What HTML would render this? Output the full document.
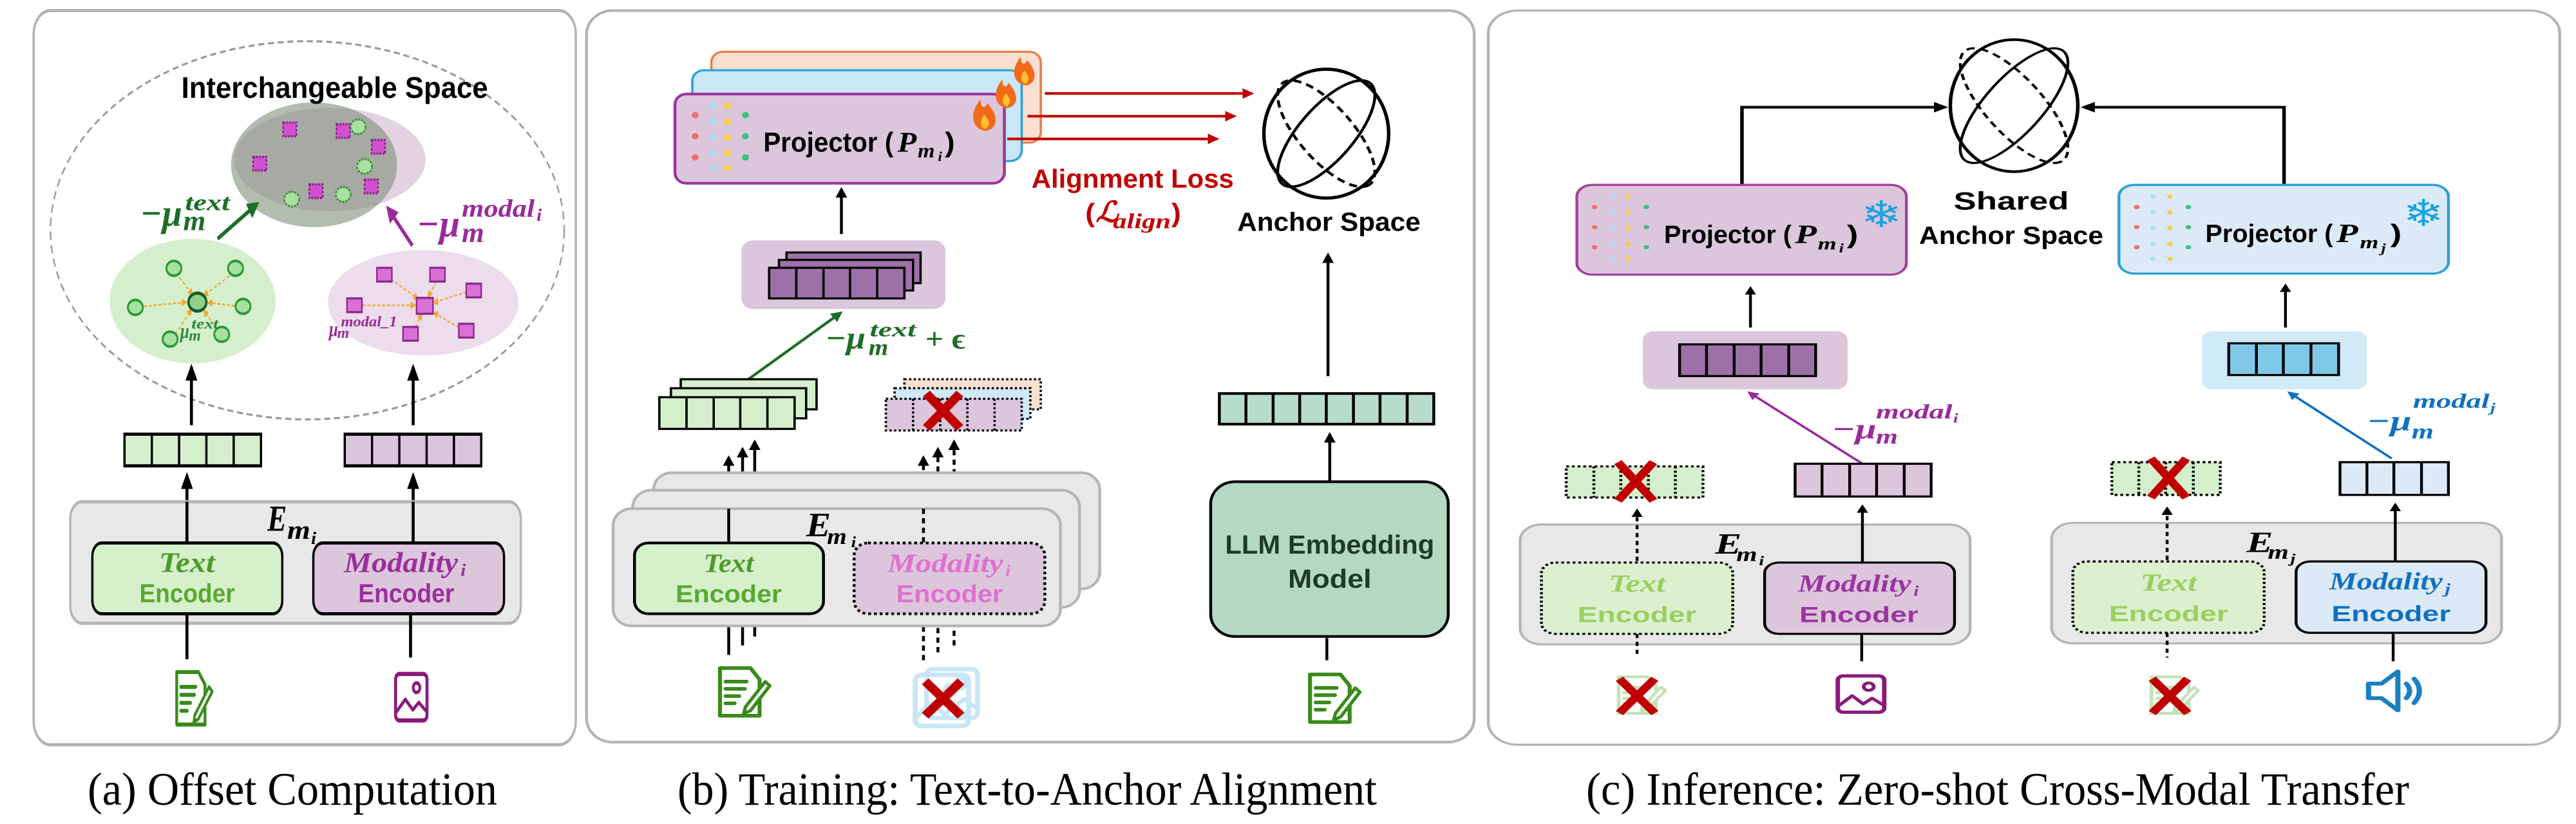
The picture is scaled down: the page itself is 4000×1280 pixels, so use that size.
<!DOCTYPE html>
<html><head><meta charset="utf-8"><style>html,body{margin:0;padding:0;background:#fff}svg{display:block}</style></head>
<body>
<svg xmlns="http://www.w3.org/2000/svg" width="4000" height="1280" viewBox="0 0 4000 1280">
<defs>
<marker id="mk" viewBox="0 0 10 10" refX="8" refY="5" markerWidth="4" markerHeight="4" orient="auto"><path d="M0,0L10,5L0,10z" fill="#000"/></marker>
<marker id="mg" viewBox="0 0 10 10" refX="8" refY="5" markerWidth="4" markerHeight="4" orient="auto"><path d="M0,0L10,5L0,10z" fill="#1e6e28"/></marker>
<marker id="mp" viewBox="0 0 10 10" refX="8" refY="5" markerWidth="4" markerHeight="4" orient="auto"><path d="M0,0L10,5L0,10z" fill="#9a2a9a"/></marker>
<marker id="mr" viewBox="0 0 10 10" refX="8" refY="5" markerWidth="4" markerHeight="4" orient="auto"><path d="M0,0L10,5L0,10z" fill="#c00000"/></marker>
<marker id="mb" viewBox="0 0 10 10" refX="8" refY="5" markerWidth="4" markerHeight="4" orient="auto"><path d="M0,0L10,5L0,10z" fill="#1070c0"/></marker>
<marker id="mo" viewBox="0 0 10 10" refX="8" refY="5" markerWidth="5" markerHeight="5" orient="auto"><path d="M0,0L10,5L0,10z" fill="#f0a830"/></marker>
<symbol id="doc" viewBox="0 0 100 100">
<path d="M8,4H62L78,26V96H8Z" fill="none" stroke="currentColor" stroke-width="7" stroke-linejoin="round"/>
<path d="M18,30H55M18,44H52M18,58H42M18,72H34" stroke="currentColor" stroke-width="7" stroke-linecap="round"/>
<path d="M88,30L96,38L62,86L50,92L53,79Z" fill="#fff" stroke="currentColor" stroke-width="6" stroke-linejoin="round"/>
</symbol>
<symbol id="img" viewBox="0 0 100 100">
<rect x="8" y="6" width="84" height="88" rx="10" fill="none" stroke="currentColor" stroke-width="8"/>
<circle cx="64" cy="32" r="9" fill="none" stroke="currentColor" stroke-width="7"/>
<polyline points="8,80 34,54 54,74 70,60 92,78" fill="none" stroke="currentColor" stroke-width="7" stroke-linejoin="round"/>
</symbol>
<symbol id="spk" viewBox="0 0 100 100">
<path d="M10,35H30L55,10V90L30,65H10Z" fill="none" stroke="currentColor" stroke-width="8" stroke-linejoin="round"/>
<path d="M68,35Q78,50 68,65M80,25Q96,50 80,75" fill="none" stroke="currentColor" stroke-width="8" stroke-linecap="round"/>
</symbol>
<g id="flame"><path d="M0,0C-24,-4 -26,-30 -8,-50C-10,-36 0,-34 2,-44C16,-30 24,-6 0,0Z" fill="#f06a1a"/><path d="M0,-3C-10,-5 -10,-18 -2,-26C2,-18 10,-14 0,-3Z" fill="#ffc030"/></g>
</defs>

<!-- ============ PANEL A ============ -->
<g transform="scale(0.5806,0.8205)" font-family="Liberation Sans, sans-serif">
<rect x="90" y="20" width="1450" height="1390" rx="45" fill="#fff" stroke="#b3b3b3" stroke-width="6"/>
<ellipse cx="822" cy="436" rx="687" ry="358" fill="none" stroke="#999" stroke-width="4" stroke-dasharray="16 10"/>
<ellipse cx="882" cy="302" rx="256" ry="98" fill="#e2d2e2"/>
<ellipse cx="840" cy="312" rx="222" ry="118" fill="#7f8f7a" opacity="0.6"/>
<text x="485" y="185" font-size="56" font-weight="bold" textLength="820" lengthAdjust="spacingAndGlyphs">Interchangeable Space</text>
<g fill="#d050d0" stroke="#8a208a" stroke-width="4" stroke-dasharray="5 3">
<rect x="757" y="232" width="36" height="26"/><rect x="900" y="235" width="36" height="26"/><rect x="994" y="265" width="36" height="26"/><rect x="677" y="297" width="36" height="26"/><rect x="975" y="340" width="36" height="26"/><rect x="827" y="349" width="36" height="26"/>
</g>
<g fill="#a8e0a0" stroke="#3a8a3a" stroke-width="4" stroke-dasharray="5 3">
<ellipse cx="958" cy="240" rx="20" ry="14"/><ellipse cx="975" cy="315" rx="20" ry="14"/><ellipse cx="780" cy="377" rx="20" ry="14"/><ellipse cx="918" cy="368" rx="20" ry="14"/>
</g>
<line x1="582" y1="452" x2="688" y2="386" stroke="#1e6e28" stroke-width="8" marker-end="url(#mg)"/>
<line x1="1103" y1="465" x2="1037" y2="394" stroke="#9a2a9a" stroke-width="8" marker-end="url(#mp)"/>
<g font-family="Liberation Serif, serif" font-weight="bold" font-style="italic" fill="#1e6e28">
<text x="375" y="428" font-size="72" textLength="112" lengthAdjust="spacingAndGlyphs">−μ</text><text x="490" y="436" font-size="54" textLength="60" lengthAdjust="spacingAndGlyphs">m</text><text x="495" y="398" font-size="44" textLength="120" lengthAdjust="spacingAndGlyphs">text</text>
</g>
<g font-family="Liberation Serif, serif" font-weight="bold" font-style="italic" fill="#9a2a9a">
<text x="1115" y="448" font-size="72" textLength="115" lengthAdjust="spacingAndGlyphs">−μ</text><text x="1235" y="458" font-size="54" textLength="60" lengthAdjust="spacingAndGlyphs">m</text><text x="1235" y="410" font-size="48" textLength="195" lengthAdjust="spacingAndGlyphs">modal</text><text x="1435" y="418" font-size="34" textLength="14" lengthAdjust="spacingAndGlyphs">i</text>
</g>
<!-- lower green cluster -->
<ellipse cx="515" cy="570" rx="222" ry="118" fill="#d5efcc"/>
<g stroke="#f0a830" stroke-width="3" stroke-dasharray="8 5" marker-end="url(#mo)">
<line x1="470" y1="516" x2="515" y2="558"/><line x1="625" y1="516" x2="545" y2="560"/><line x1="385" y1="580" x2="498" y2="572"/><line x1="628" y1="579" x2="556" y2="573"/><line x1="468" y1="634" x2="512" y2="586"/><line x1="583" y1="625" x2="545" y2="588"/>
</g>
<g fill="#a8e0a0" stroke="#2a9a3a" stroke-width="5">
<ellipse cx="465" cy="508" rx="20" ry="14"/><ellipse cx="630" cy="508" rx="20" ry="14"/><ellipse cx="362" cy="582" rx="20" ry="14"/><ellipse cx="650" cy="580" rx="20" ry="14"/><ellipse cx="455" cy="642" rx="20" ry="14"/><ellipse cx="593" cy="633" rx="20" ry="14"/>
</g>
<ellipse cx="528" cy="572" rx="24" ry="17" fill="#8fd08a" stroke="#1a5a2a" stroke-width="6"/>
<g font-family="Liberation Serif, serif" font-weight="bold" font-style="italic" fill="#2a8a3a">
<text x="482" y="640" font-size="40" textLength="24" lengthAdjust="spacingAndGlyphs">μ</text><text x="505" y="645" font-size="30" textLength="32" lengthAdjust="spacingAndGlyphs">m</text><text x="512" y="622" font-size="28" textLength="72" lengthAdjust="spacingAndGlyphs">text</text>
</g>
<!-- lower purple cluster -->
<ellipse cx="1132" cy="573" rx="255" ry="100" fill="#ecdcec"/>
<g stroke="#f0a830" stroke-width="3" stroke-dasharray="8 5" marker-end="url(#mo)">
<line x1="1045" y1="528" x2="1118" y2="566"/><line x1="1168" y1="532" x2="1145" y2="562"/><line x1="1248" y1="553" x2="1160" y2="573"/><line x1="970" y1="578" x2="1110" y2="578"/><line x1="1228" y1="620" x2="1160" y2="592"/><line x1="1110" y1="620" x2="1128" y2="594"/>
</g>
<g fill="#d870d8" stroke="#8a2a8a" stroke-width="4">
<rect x="1008" y="507" width="40" height="26"/><rect x="1150" y="507" width="40" height="26"/><rect x="1247" y="537" width="40" height="26"/><rect x="928" y="565" width="40" height="26"/><rect x="1227" y="613" width="40" height="26"/><rect x="1078" y="619" width="40" height="26"/>
<rect x="1114" y="564" width="44" height="30"/>
</g>
<g font-family="Liberation Serif, serif" font-weight="bold" font-style="italic" fill="#9a2a9a">
<text x="880" y="636" font-size="40" textLength="24" lengthAdjust="spacingAndGlyphs">μ</text><text x="902" y="640" font-size="30" textLength="32" lengthAdjust="spacingAndGlyphs">m</text><text x="912" y="618" font-size="28" textLength="150" lengthAdjust="spacingAndGlyphs">modal_1</text>
</g>
<!-- arrows -->
<g stroke="#000" stroke-width="8" marker-end="url(#mk)">
<line x1="512" y1="805" x2="512" y2="695"/><line x1="1105" y1="805" x2="1105" y2="695"/>
<line x1="500" y1="1025" x2="500" y2="900"/><line x1="1105" y1="1025" x2="1105" y2="900"/>
</g>
<!-- vectors -->
<rect x="333" y="822" width="365" height="60" fill="#d5efcc" stroke="#000" stroke-width="6"/>
<path d="M406,822V882M479,822V882M552,822V882M625,822V882" stroke="#000" stroke-width="6"/>
<rect x="922" y="822" width="365" height="60" fill="#d9c6dc" stroke="#000" stroke-width="6"/>
<path d="M995,822V882M1068,822V882M1141,822V882M1214,822V882" stroke="#000" stroke-width="6"/>
<!-- encoder -->
<rect x="188" y="950" width="1205" height="230" rx="32" fill="#e8e8e8" stroke="#b5b5b5" stroke-width="6"/>
<line x1="500" y1="950" x2="500" y2="1028" stroke="#000" stroke-width="8"/>
<line x1="1105" y1="950" x2="1105" y2="1028" stroke="#000" stroke-width="8"/>
<g font-family="Liberation Serif, serif" font-weight="bold" font-style="italic">
<text x="715" y="1005" font-size="70" textLength="52" lengthAdjust="spacingAndGlyphs">E</text><text x="768" y="1020" font-size="50" textLength="62" lengthAdjust="spacingAndGlyphs">m</text><text x="832" y="1030" font-size="34" textLength="14" lengthAdjust="spacingAndGlyphs">i</text>
</g>
<rect x="247" y="1028" width="508" height="134" rx="25" fill="#d6f0cc" stroke="#000" stroke-width="6"/>
<rect x="838" y="1028" width="510" height="134" rx="25" fill="#dcc6dc" stroke="#000" stroke-width="6"/>
<text x="425" y="1083" font-family="Liberation Serif, serif" font-weight="bold" font-style="italic" font-size="54" fill="#4f9a2a" textLength="150" lengthAdjust="spacingAndGlyphs">Text</text>
<text x="373" y="1140" font-size="50" font-weight="bold" fill="#5aa830" textLength="255" lengthAdjust="spacingAndGlyphs">Encoder</text>
<text x="920" y="1083" font-family="Liberation Serif, serif" font-weight="bold" font-style="italic" font-size="54" fill="#9a2f9a" textLength="305" lengthAdjust="spacingAndGlyphs">Modality</text>
<text x="1232" y="1090" font-family="Liberation Serif, serif" font-weight="bold" font-style="italic" font-size="34" fill="#9a2f9a" textLength="14" lengthAdjust="spacingAndGlyphs">i</text>
<text x="958" y="1140" font-size="50" font-weight="bold" fill="#9a2f9a" textLength="257" lengthAdjust="spacingAndGlyphs">Encoder</text>
<line x1="500" y1="1165" x2="500" y2="1248" stroke="#000" stroke-width="8"/>
<line x1="1098" y1="1165" x2="1098" y2="1245" stroke="#000" stroke-width="8"/>
<use href="#doc" x="443" y="1268" width="150" height="108" preserveAspectRatio="none" style="color:#3a8a1a"/>
<use href="#img" x="1030" y="1270" width="140" height="100" preserveAspectRatio="none" style="color:#8a1a7a"/>
</g>

<!-- ============ PANEL B ============ -->
<g transform="translate(900,0) scale(0.8974,0.8205)" font-family="Liberation Sans, sans-serif">
<rect x="12" y="20" width="1536" height="1385" rx="45" fill="#fff" stroke="#b3b3b3" stroke-width="5"/>
<rect x="228" y="98" width="570" height="172" rx="20" fill="#fbe0d2" stroke="#e8804a" stroke-width="4"/>
<rect x="195" y="133" width="570" height="172" rx="20" fill="#c8e8f8" stroke="#30a0d8" stroke-width="4"/>
<rect x="165" y="178" width="570" height="169" rx="20" fill="#dcc6dc" stroke="#9a35a0" stroke-width="5"/>
<use href="#flame" transform="translate(772,162) scale(1.0,1.1)"/>
<use href="#flame" transform="translate(740,205) scale(1.0,1.1)"/>
<use href="#flame" transform="translate(703,248) scale(1.1,1.2)"/>
<g>
<circle cx="200" cy="218" r="6" fill="#f07070"/><circle cx="200" cy="258" r="6" fill="#f07070"/><circle cx="200" cy="298" r="6" fill="#f07070"/>
<circle cx="230" cy="200" r="6" fill="#a8e0f0"/><circle cx="230" cy="230" r="6" fill="#a8e0f0"/><circle cx="230" cy="260" r="6" fill="#a8e0f0"/><circle cx="230" cy="290" r="6" fill="#a8e0f0"/><circle cx="230" cy="318" r="6" fill="#a8e0f0"/>
<circle cx="256" cy="200" r="6" fill="#f8d040"/><circle cx="256" cy="230" r="6" fill="#f8d040"/><circle cx="256" cy="260" r="6" fill="#f8d040"/><circle cx="256" cy="290" r="6" fill="#f8d040"/><circle cx="256" cy="318" r="6" fill="#f8d040"/>
<circle cx="287" cy="218" r="6" fill="#40c080"/><circle cx="287" cy="258" r="6" fill="#40c080"/><circle cx="287" cy="298" r="6" fill="#40c080"/>
</g>
<text x="318" y="287" font-size="52" font-weight="bold" textLength="225" lengthAdjust="spacingAndGlyphs">Projector (</text>
<g font-family="Liberation Serif, serif" font-weight="bold" font-style="italic"><text x="550" y="287" font-size="54">P</text><text x="585" y="298" font-size="38">m</text><text x="620" y="305" font-size="26">i</text></g>
<text x="632" y="287" font-size="52" font-weight="bold">)</text>
<g stroke="#c00000" stroke-width="5" marker-end="url(#mr)">
<line x1="805" y1="177" x2="1163" y2="177"/><line x1="775" y1="220" x2="1133" y2="220"/><line x1="740" y1="263" x2="1103" y2="263"/>
</g>
<text x="782" y="355" font-size="50" font-weight="bold" fill="#c00000" textLength="350" lengthAdjust="spacingAndGlyphs">Alignment Loss</text>
<text x="875" y="420" font-size="50" font-weight="bold" fill="#c00000">(</text>
<text x="893" y="420" font-family="Liberation Serif, serif" font-weight="bold" font-style="italic" font-size="54" fill="#c00000">ℒ</text>
<text x="923" y="432" font-family="Liberation Serif, serif" font-weight="bold" font-style="italic" font-size="40" fill="#c00000" textLength="100" lengthAdjust="spacingAndGlyphs">align</text>
<text x="1024" y="420" font-size="50" font-weight="bold" fill="#c00000">)</text>
<!-- sphere -->
<ellipse cx="1292" cy="253" rx="108" ry="122" fill="#fff" stroke="#000" stroke-width="6"/>
<ellipse cx="1292" cy="253" rx="122" ry="48" transform="rotate(-52 1292 253)" fill="none" stroke="#000" stroke-width="5"/>
<ellipse cx="1292" cy="253" rx="122" ry="48" transform="rotate(52 1292 253)" fill="none" stroke="#000" stroke-width="5" stroke-dasharray="14 9"/>
<text x="1138" y="437" font-size="50" font-weight="bold" textLength="317" lengthAdjust="spacingAndGlyphs">Anchor Space</text>
<line x1="1295" y1="712" x2="1295" y2="482" stroke="#000" stroke-width="5" marker-end="url(#mk)"/>
<rect x="1107" y="745" width="371" height="58" fill="#b8dccb" stroke="#000" stroke-width="5"/>
<path d="M1153,745V803M1200,745V803M1246,745V803M1292,745V803M1339,745V803M1385,745V803M1432,745V803" stroke="#000" stroke-width="5"/>
<line x1="1298" y1="910" x2="1298" y2="822" stroke="#000" stroke-width="5" marker-end="url(#mk)"/>
<rect x="1092" y="912" width="411" height="293" rx="42" fill="#b4d8c4" stroke="#000" stroke-width="5"/>
<text x="1298" y="1048" font-size="50" font-weight="bold" fill="#1f3a26" text-anchor="middle" textLength="362" lengthAdjust="spacingAndGlyphs">LLM Embedding</text>
<text x="1298" y="1113" font-size="50" font-weight="bold" fill="#1f3a26" text-anchor="middle">Model</text>
<line x1="1293" y1="1208" x2="1293" y2="1250" stroke="#000" stroke-width="5"/>
<use href="#doc" x="1256" y="1268" width="98" height="108" preserveAspectRatio="none" style="color:#3a8a1a"/>
<!-- purple feature -->
<rect x="280" y="455" width="353" height="130" rx="20" fill="#dcc6dc"/>
<g fill="#9e70a8" stroke="#000" stroke-width="4">
<rect x="358" y="478" width="232" height="58"/><rect x="345" y="492" width="232" height="58"/><rect x="328" y="507" width="234" height="58"/>
</g>
<path d="M375,507V565M422,507V565M468,507V565M515,507V565" stroke="#000" stroke-width="4"/>
<line x1="453" y1="443" x2="453" y2="358" stroke="#000" stroke-width="5" marker-end="url(#mk)"/>
<line x1="292" y1="718" x2="452" y2="592" stroke="#1e6e28" stroke-width="5" marker-end="url(#mg)"/>
<g font-family="Liberation Serif, serif" font-weight="bold" font-style="italic" fill="#1e6e28">
<text x="425" y="660" font-size="60">−μ</text><text x="500" y="672" font-size="44">m</text><text x="502" y="637" font-size="38" textLength="80" lengthAdjust="spacingAndGlyphs">text</text><text x="598" y="660" font-size="56" font-style="normal">+ ϵ</text>
</g>
<!-- green stack -->
<g fill="#d5efcc" stroke="#000" stroke-width="4">
<rect x="175" y="718" width="235" height="57"/><rect x="158" y="735" width="234" height="57"/><rect x="138" y="752" width="234" height="60"/>
</g>
<path d="M185,752V812M232,752V812M278,752V812M325,752V812" stroke="#000" stroke-width="4"/>
<!-- dotted stack -->
<g stroke="#000" stroke-width="4" stroke-dasharray="4 4">
<rect x="562" y="718" width="236" height="57" fill="#fbe0d2"/><rect x="545" y="735" width="235" height="58" fill="#d0e8f8"/><rect x="530" y="755" width="235" height="60" fill="#dcc6dc"/>
<path d="M577,755V815M624,755V815M671,755V815M718,755V815"/>
</g>
<path d="M600,745L658,810M658,745L600,810" stroke="#c00000" stroke-width="16"/>
<!-- up arrows -->
<g stroke="#000" stroke-width="5">
<line x1="258" y1="1240" x2="258" y2="866" marker-end="url(#mk)"/><line x1="282" y1="1222" x2="282" y2="850" marker-end="url(#mk)"/><line x1="303" y1="1205" x2="303" y2="836" marker-end="url(#mk)"/>
<g stroke-dasharray="10 8"><line x1="595" y1="1250" x2="595" y2="866" marker-end="url(#mk)"/><line x1="620" y1="1235" x2="620" y2="850" marker-end="url(#mk)"/><line x1="648" y1="1222" x2="648" y2="836" marker-end="url(#mk)"/></g>
</g>
<!-- grey encoder stack -->
<rect x="128" y="895" width="772" height="220" rx="32" fill="#e8e8e8" stroke="#b5b5b5" stroke-width="5"/>
<rect x="92" y="928" width="773" height="222" rx="32" fill="#e8e8e8" stroke="#b5b5b5" stroke-width="5"/>
<rect x="58" y="963" width="774" height="222" rx="32" fill="#e8e8e8" stroke="#b5b5b5" stroke-width="5"/>
<line x1="258" y1="963" x2="258" y2="1028" stroke="#000" stroke-width="5"/>
<line x1="595" y1="963" x2="595" y2="1028" stroke="#000" stroke-width="5" stroke-dasharray="10 8"/>
<g font-family="Liberation Serif, serif" font-weight="bold" font-style="italic"><text x="392" y="1015" font-size="64">E</text><text x="428" y="1030" font-size="44">m</text><text x="470" y="1036" font-size="30">i</text></g>
<rect x="95" y="1028" width="327" height="134" rx="24" fill="#d6f0cc" stroke="#000" stroke-width="5"/>
<rect x="475" y="1028" width="330" height="134" rx="24" fill="#dcc6dc" stroke="#000" stroke-width="5" stroke-dasharray="5 5"/>
<text x="258" y="1083" font-family="Liberation Serif, serif" font-weight="bold" font-style="italic" font-size="50" fill="#4f9a2a" text-anchor="middle">Text</text>
<text x="258" y="1140" font-size="46" font-weight="bold" fill="#5aa830" text-anchor="middle">Encoder</text>
<text x="533" y="1083" font-family="Liberation Serif, serif" font-weight="bold" font-style="italic" font-size="50" fill="#e070d0" textLength="200" lengthAdjust="spacingAndGlyphs">Modality</text>
<text x="737" y="1090" font-family="Liberation Serif, serif" font-weight="bold" font-style="italic" font-size="30" fill="#e070d0">i</text>
<text x="640" y="1140" font-size="46" font-weight="bold" fill="#e070d0" text-anchor="middle">Encoder</text>
<use href="#doc" x="235" y="1256" width="98" height="108" preserveAspectRatio="none" style="color:#3a8a1a"/>
<g opacity="0.45"><use href="#img" x="592" y="1258" width="105" height="110" preserveAspectRatio="none" style="color:#88c8e8"/><use href="#img" x="572" y="1270" width="110" height="112" preserveAspectRatio="none" style="color:#88c8e8"/></g>
<path d="M598,1290L660,1355M660,1290L598,1355" stroke="#c00000" stroke-width="16"/>
</g>

<!-- ============ PANEL C ============ -->
<g transform="translate(2300,0) scale(1.1003,0.8205)" font-family="Liberation Sans, sans-serif">
<rect x="10" y="20" width="1512" height="1390" rx="42" fill="#fff" stroke="#b3b3b3" stroke-width="4"/>
<ellipse cx="752" cy="200" rx="90" ry="125" fill="#fff" stroke="#000" stroke-width="5"/>
<ellipse cx="752" cy="200" rx="125" ry="44" transform="rotate(-58 752 200)" fill="none" stroke="#000" stroke-width="4"/>
<ellipse cx="752" cy="200" rx="125" ry="44" transform="rotate(58 752 200)" fill="none" stroke="#000" stroke-width="4" stroke-dasharray="12 8"/>
<polyline points="368,350 368,203 655,203" fill="none" stroke="#000" stroke-width="5" marker-end="url(#mk)"/>
<polyline points="1133,350 1133,203 850,203" fill="none" stroke="#000" stroke-width="5" marker-end="url(#mk)"/>
<rect x="135" y="350" width="465" height="170" rx="22" fill="#dcc6dc" stroke="#a040a0" stroke-width="4"/>
<rect x="900" y="350" width="465" height="168" rx="22" fill="#dceaf8" stroke="#2aa0d8" stroke-width="4"/>
<g>
<circle cx="160" cy="392" r="4" fill="#f07070"/><circle cx="160" cy="430" r="4" fill="#f07070"/><circle cx="160" cy="468" r="4" fill="#f07070"/>
<circle cx="185" cy="372" r="4" fill="#a8e0f0"/><circle cx="185" cy="402" r="4" fill="#a8e0f0"/><circle cx="185" cy="432" r="4" fill="#a8e0f0"/><circle cx="185" cy="462" r="4" fill="#a8e0f0"/><circle cx="185" cy="490" r="4" fill="#a8e0f0"/>
<circle cx="207" cy="372" r="4" fill="#f8d040"/><circle cx="207" cy="402" r="4" fill="#f8d040"/><circle cx="207" cy="432" r="4" fill="#f8d040"/><circle cx="207" cy="462" r="4" fill="#f8d040"/><circle cx="207" cy="490" r="4" fill="#f8d040"/>
<circle cx="233" cy="392" r="4" fill="#40c080"/><circle cx="233" cy="430" r="4" fill="#40c080"/><circle cx="233" cy="468" r="4" fill="#40c080"/>
<circle cx="925" cy="392" r="4" fill="#f07070"/><circle cx="925" cy="430" r="4" fill="#f07070"/><circle cx="925" cy="468" r="4" fill="#f07070"/>
<circle cx="948" cy="372" r="4" fill="#a8e0f0"/><circle cx="948" cy="402" r="4" fill="#a8e0f0"/><circle cx="948" cy="432" r="4" fill="#a8e0f0"/><circle cx="948" cy="462" r="4" fill="#a8e0f0"/><circle cx="948" cy="490" r="4" fill="#a8e0f0"/>
<circle cx="972" cy="372" r="4" fill="#f8d040"/><circle cx="972" cy="402" r="4" fill="#f8d040"/><circle cx="972" cy="432" r="4" fill="#f8d040"/><circle cx="972" cy="462" r="4" fill="#f8d040"/><circle cx="972" cy="490" r="4" fill="#f8d040"/>
<circle cx="998" cy="392" r="4" fill="#40c080"/><circle cx="998" cy="430" r="4" fill="#40c080"/><circle cx="998" cy="468" r="4" fill="#40c080"/>
</g>
<text x="258" y="460" font-size="48" font-weight="bold" textLength="180" lengthAdjust="spacingAndGlyphs">Projector (</text>
<g font-family="Liberation Serif, serif" font-weight="bold" font-style="italic"><text x="443" y="460" font-size="50">P</text><text x="475" y="472" font-size="34">m</text><text x="505" y="478" font-size="24">i</text></g>
<text x="516" y="460" font-size="48" font-weight="bold">)</text>
<text x="1022" y="458" font-size="48" font-weight="bold" textLength="180" lengthAdjust="spacingAndGlyphs">Projector (</text>
<g font-family="Liberation Serif, serif" font-weight="bold" font-style="italic"><text x="1207" y="458" font-size="50">P</text><text x="1240" y="470" font-size="34">m</text><text x="1270" y="478" font-size="24">j</text></g>
<text x="1283" y="458" font-size="48" font-weight="bold">)</text>
<text x="565" y="430" font-family="DejaVu Sans, sans-serif" font-size="70" fill="#19a3e0" text-anchor="middle">❄</text>
<text x="1330" y="428" font-family="DejaVu Sans, sans-serif" font-size="70" fill="#19a3e0" text-anchor="middle">❄</text>
<text x="748" y="397" font-size="48" font-weight="bold" text-anchor="middle">Shared</text>
<text x="618" y="462" font-size="48" font-weight="bold" textLength="260" lengthAdjust="spacingAndGlyphs">Anchor Space</text>
<line x1="380" y1="620" x2="380" y2="545" stroke="#000" stroke-width="4" marker-end="url(#mk)"/>
<line x1="1135" y1="620" x2="1135" y2="540" stroke="#000" stroke-width="4" marker-end="url(#mk)"/>
<rect x="228" y="627" width="289" height="110" rx="16" fill="#dcc6dc"/>
<rect x="280" y="652" width="192" height="60" fill="#9e70a8" stroke="#000" stroke-width="4"/>
<path d="M318,652V712M357,652V712M395,652V712M434,652V712" stroke="#000" stroke-width="4"/>
<rect x="1017" y="627" width="233" height="110" rx="16" fill="#d0eaf8"/>
<rect x="1055" y="650" width="155" height="60" fill="#80c8e8" stroke="#000" stroke-width="4"/>
<path d="M1094,650V710M1132,650V710M1171,650V710" stroke="#000" stroke-width="4"/>
<line x1="538" y1="878" x2="378" y2="743" stroke="#9a2a9a" stroke-width="4" marker-end="url(#mp)"/>
<line x1="1285" y1="868" x2="1140" y2="743" stroke="#1070c0" stroke-width="4" marker-end="url(#mb)"/>
<g font-family="Liberation Serif, serif" font-weight="bold" font-style="italic" fill="#9a2a9a">
<text x="495" y="830" font-size="54">−μ</text><text x="557" y="840" font-size="40">m</text><text x="557" y="792" font-size="38" textLength="108" lengthAdjust="spacingAndGlyphs">modal</text><text x="666" y="800" font-size="26">i</text>
</g>
<g font-family="Liberation Serif, serif" font-weight="bold" font-style="italic" fill="#1070c0">
<text x="1250" y="815" font-size="54">−μ</text><text x="1313" y="830" font-size="40">m</text><text x="1315" y="772" font-size="38" textLength="108" lengthAdjust="spacingAndGlyphs">modal</text><text x="1424" y="780" font-size="26">j</text>
</g>
<!-- vectors -->
<g stroke="#000" stroke-width="4" stroke-dasharray="4 4"><rect x="120" y="883" width="193" height="59" fill="#d5efcc"/><path d="M159,883V942M197,883V942M236,883V942M274,883V942"/></g>
<path d="M193,875L243,948M243,875L193,948" stroke="#c00000" stroke-width="13"/>
<rect x="443" y="878" width="192" height="62" fill="#dcc6dc" stroke="#000" stroke-width="4"/>
<path d="M481,878V940M520,878V940M558,878V940M597,878V940" stroke="#000" stroke-width="4"/>
<g stroke="#000" stroke-width="4" stroke-dasharray="4 4"><rect x="890" y="875" width="153" height="62" fill="#d5efcc"/><path d="M928,875V937M966,875V937M1005,875V937"/></g>
<path d="M945,868L995,942M995,868L945,942" stroke="#c00000" stroke-width="13"/>
<rect x="1212" y="875" width="153" height="62" fill="#dceaf8" stroke="#000" stroke-width="4"/>
<path d="M1250,875V937M1288,875V937M1327,875V937" stroke="#000" stroke-width="4"/>
<!-- grey boxes -->
<rect x="55" y="993" width="635" height="227" rx="30" fill="#e8e8e8" stroke="#b5b5b5" stroke-width="4"/>
<rect x="805" y="990" width="635" height="228" rx="30" fill="#e8e8e8" stroke="#b5b5b5" stroke-width="4"/>
<g stroke="#000" stroke-width="4">
<line x1="220" y1="1062" x2="220" y2="966" stroke-dasharray="8 7" marker-end="url(#mk)"/>
<line x1="538" y1="1065" x2="538" y2="958" marker-end="url(#mk)"/>
<line x1="968" y1="1060" x2="968" y2="962" stroke-dasharray="8 7" marker-end="url(#mk)"/>
<line x1="1290" y1="1062" x2="1290" y2="955" marker-end="url(#mk)"/>
<line x1="220" y1="1200" x2="220" y2="1245" stroke-dasharray="8 7"/>
<line x1="537" y1="1200" x2="537" y2="1252"/>
<line x1="968" y1="1198" x2="968" y2="1245" stroke-dasharray="8 7"/>
<line x1="1287" y1="1198" x2="1287" y2="1252"/>
</g>
<g font-family="Liberation Serif, serif" font-weight="bold" font-style="italic">
<text x="330" y="1048" font-size="56">E</text><text x="360" y="1062" font-size="38">m</text><text x="392" y="1070" font-size="26">i</text>
<text x="1080" y="1045" font-size="56">E</text><text x="1110" y="1058" font-size="38">m</text><text x="1142" y="1066" font-size="26">j</text>
</g>
<rect x="85" y="1065" width="270" height="135" rx="20" fill="#dcf0d0" stroke="#000" stroke-width="4" stroke-dasharray="4 4"/>
<rect x="400" y="1065" width="268" height="135" rx="20" fill="#dcc6dc" stroke="#000" stroke-width="4"/>
<rect x="835" y="1063" width="270" height="135" rx="20" fill="#dcf0d0" stroke="#000" stroke-width="4" stroke-dasharray="4 4"/>
<rect x="1150" y="1063" width="268" height="135" rx="20" fill="#dceaf8" stroke="#000" stroke-width="4"/>
<g font-family="Liberation Serif, serif" font-weight="bold" font-style="italic" font-size="46">
<text x="220" y="1120" fill="#9ad060" text-anchor="middle">Text</text>
<text x="970" y="1118" fill="#9ad060" text-anchor="middle">Text</text>
<text x="447" y="1120" fill="#9a35a0" textLength="160" lengthAdjust="spacingAndGlyphs">Modality</text><text x="610" y="1128" fill="#9a35a0" font-size="28">i</text>
<text x="1197" y="1116" fill="#1070c0" textLength="160" lengthAdjust="spacingAndGlyphs">Modality</text><text x="1360" y="1124" fill="#1070c0" font-size="28">j</text>
</g>
<g font-size="42" font-weight="bold" text-anchor="middle">
<text x="220" y="1178" fill="#9ad060">Encoder</text>
<text x="533" y="1178" fill="#9a35a0">Encoder</text>
<text x="970" y="1176" fill="#9ad060">Encoder</text>
<text x="1284" y="1176" fill="#1070c0">Encoder</text>
</g>
<g opacity="0.35"><use href="#doc" x="188" y="1262" width="75" height="108" preserveAspectRatio="none" style="color:#5aa830"/><use href="#doc" x="940" y="1262" width="75" height="108" preserveAspectRatio="none" style="color:#5aa830"/></g>
<path d="M195,1285L245,1350M245,1285L195,1350" stroke="#c00000" stroke-width="13"/>
<path d="M947,1285L997,1350M997,1285L947,1350" stroke="#c00000" stroke-width="13"/>
<use href="#img" x="497" y="1264" width="78" height="100" preserveAspectRatio="none" style="color:#8a1a7a"/>
<use href="#spk" x="1243" y="1258" width="92" height="100" preserveAspectRatio="none" style="color:#1a80c0"/>
</g>

<!-- captions -->
<g font-family="Liberation Serif, serif" font-size="72" fill="#000">
<text x="136" y="1250" textLength="636" lengthAdjust="spacingAndGlyphs">(a) Offset Computation</text>
<text x="1052" y="1250" textLength="1086" lengthAdjust="spacingAndGlyphs">(b) Training: Text-to-Anchor Alignment</text>
<text x="2463" y="1250" textLength="1278" lengthAdjust="spacingAndGlyphs">(c) Inference: Zero-shot Cross-Modal Transfer</text>
</g>
</svg>
</body></html>
